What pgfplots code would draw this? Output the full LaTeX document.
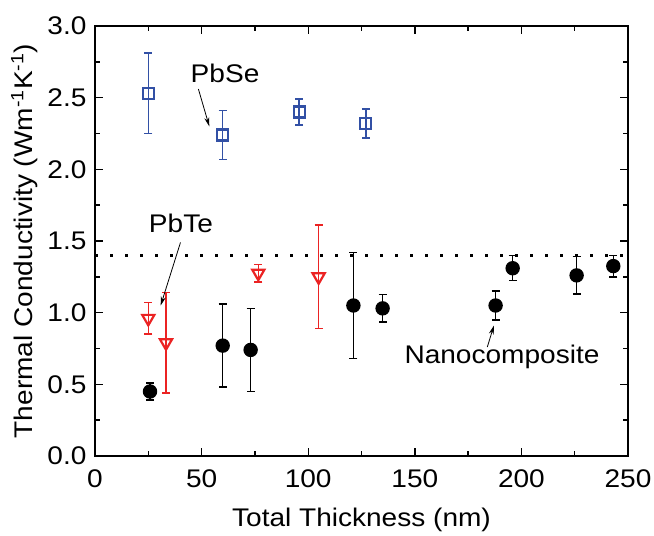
\documentclass[border=0pt]{standalone}
\usepackage{fontspec}
\setmainfont{Liberation Sans}[FakeStretch=1.1]
\usepackage{pgfplots}
\pgfplotsset{compat=1.18}
\usetikzlibrary{arrows.meta}

\definecolor{sered}{RGB}{235,35,35}
\definecolor{seblue}{RGB}{50,80,165}
\newcommand{\bigf}{\fontsize{25.5}{30}\selectfont}

\begin{document}
\begin{tikzpicture}[font=\bigf]
\begin{axis}[
  scale only axis,
  width=533pt, height=430pt,
  xmin=0, xmax=250, ymin=0, ymax=3.0,
  xtick={0,50,...,250}, ytick={0,0.5,...,3.0},
  minor x tick num=1, minor y tick num=1,
  tick align=inside,
  major tick length=8pt, minor tick length=5pt,
  axis line style={line width=1.8pt},
  every tick/.style={black, line width=1.4pt},
  tick label style={font=\bigf},
  label style={font=\bigf},
  /pgf/number format/assume math mode=true,
  yticklabel style={xshift=-5pt, /pgf/number format/.cd, fixed, fixed zerofill, precision=1},
  xticklabel style={yshift=-10pt, /pgf/number format/.cd, fixed},
  xlabel={Total Thickness (nm)},
  ylabel={Thermal Conductivity (Wm\textsuperscript{-1}K\textsuperscript{-1})},
  ylabel style={yshift=3pt},
  xlabel style={yshift=-14pt},
  clip=false,
]
% reference line
\addplot[black, line width=3pt, dash pattern=on 3pt off 12pt] coordinates {(0,1.4) (250,1.4)};

% PbSe
\addplot[seblue, line width=1.5pt, only marks, mark=square, mark size=5.5pt,
  mark options={line width=2.2pt, fill=white},
  error bars/.cd, y dir=both, y explicit,
  error bar style={line width=1.5pt, seblue}, error mark options={rotate=90, mark size=4pt, line width=1.5pt}]
  coordinates {
  (25,2.53) +- (0,0.28)
  (59.9,2.24) +- (0,0.17)
  (95.8,2.40) +- (0,0.09)
  (127,2.32) +- (0,0.10)
  };

% PbTe
\addplot[sered, line width=1.5pt, only marks, mark=triangle, mark size=7pt,
  mark options={rotate=180, line width=2.2pt, fill=white},
  error bars/.cd, y dir=both, y explicit,
  error bar style={line width=1.5pt, sered}, error mark options={rotate=90, mark size=4pt, line width=1.5pt}]
  coordinates {
  (25,0.96) +- (0,0.11)
  (33.3,0.79) +- (0,0.35)
  (76.6,1.275) +- (0,0.06)
  (104.9,1.25) +- (0,0.36)
  };

% Nanocomposite
\addplot[black, line width=1.4pt, only marks, mark=*, mark size=6.5pt,
  error bars/.cd, y dir=both, y explicit,
  error bar style={line width=1.4pt, black}, error mark options={rotate=90, mark size=4pt, line width=1.4pt}]
  coordinates {
  (25.8,0.45) +- (0,0.06)
  (59.9,0.77) +- (0,0.29)
  (73,0.74) +- (0,0.29)
  (121.2,1.05) +- (0,0.37)
  (134.9,1.03) +- (0,0.095)
  (187.9,1.05) +- (0,0.10)
  (195.9,1.31) +- (0,0.087)
  (225.9,1.26) +- (0,0.13)
  (243.1,1.325) +- (0,0.075)
  };

% annotations
\node[font=\bigf] at (axis cs:61,2.67) {PbSe};
\draw[-{Stealth[length=9pt,width=5pt]}, line width=0.8pt] (axis cs:48.5,2.56) -- (axis cs:53.6,2.30);
\node[font=\bigf] at (axis cs:40.3,1.62) {PbTe};
\draw[-{Stealth[length=9pt,width=5pt]}, line width=0.8pt] (axis cs:40.1,1.49) -- (axis cs:30.8,1.05);
\node[font=\bigf] at (axis cs:190.9,0.69) {Nanocomposite};
\draw[-{Stealth[length=9pt,width=5pt]}, line width=0.8pt] (axis cs:184,0.76) -- (axis cs:187.1,0.91);
\end{axis}
\pgfresetboundingbox
\path[use as bounding box] ([shift={(-95pt,-80pt)}]current axis.south west) rectangle ([shift={(26pt,26pt)}]current axis.north east);
\end{tikzpicture}
\end{document}
